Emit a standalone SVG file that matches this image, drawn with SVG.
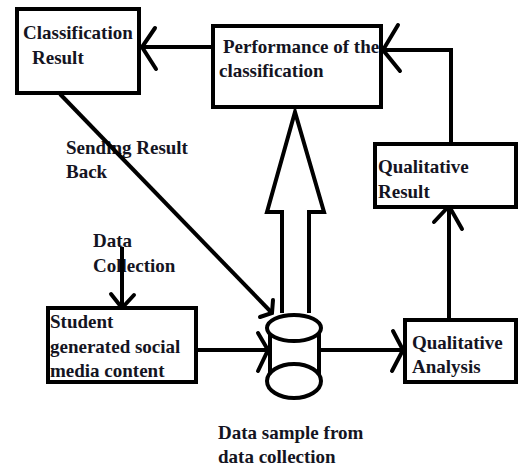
<svg xmlns="http://www.w3.org/2000/svg" width="519" height="468" viewBox="0 0 519 468">
<style>
.box{fill:#fff;stroke:#000;stroke-width:4}
.ln{fill:none;stroke:#000;stroke-width:4;stroke-linecap:butt;stroke-linejoin:miter}
.hd{fill:none;stroke:#000;stroke-width:4;stroke-linecap:round}
text{font-family:"Liberation Serif","Times New Roman",serif;font-weight:bold;font-size:19px;fill:#141422}
</style>
<rect width="519" height="468" fill="#fff"/>
<g id="labels">
  <text x="66" y="154">Sending Result</text>
  <text x="66" y="178">Back</text>
  <text x="93" y="247">Data</text>
  <text x="93" y="272">Collection</text>
</g>
<g id="connectors">
  <!-- Performance -> Classification -->
  <line class="ln" x1="211" y1="47" x2="142" y2="47"/>
  <polyline class="hd" points="155,28 142,47 156,69"/>
  <!-- Qualitative Result -> Performance -->
  <polyline class="ln" points="451,142 451,50 382,50"/>
  <polyline class="hd" points="398,25 383,50 400,71"/>
  <!-- Classification -> cylinder (Sending Result Back) -->
  <line class="ln" x1="60" y1="94" x2="272" y2="313"/>
  <polyline class="hd" points="273,300 272,313 260,317"/>
  <!-- Data Collection arrow -->
  <line class="ln" x1="122" y1="247" x2="122" y2="308"/>
  <polyline class="hd" points="111,294 122,308 134,295"/>
  <!-- Student -> cylinder -->
  <line class="ln" x1="197" y1="350" x2="268" y2="350"/>
  <polyline class="hd" points="258,333 268,350 258,371"/>
  <!-- cylinder -> Qualitative Analysis -->
  <line class="ln" x1="321" y1="350" x2="403" y2="350"/>
  <polyline class="hd" points="393,331 403,350 392,371"/>
  <!-- Qualitative Analysis -> Qualitative Result -->
  <line class="ln" x1="449" y1="320" x2="449" y2="207"/>
  <polyline class="hd" points="434,222 449,206 462,229"/>
  <!-- hollow block arrow cylinder -> Performance -->
  <polyline points="282,313 282,212 267,212 295,112 324,212 309,212 309,313" fill="#fff" stroke="#000" stroke-width="4" stroke-linejoin="miter"/>
</g>
<g id="classification-result">
  <rect class="box" x="17" y="9" width="122" height="84"/>
  <text x="23" y="39">Classification</text>
  <text x="32" y="64">Result</text>
</g>
<g id="performance">
  <rect class="box" x="213" y="26" width="168" height="81"/>
  <text x="223" y="53">Performance of the</text>
  <text x="219" y="77">classification</text>
</g>
<g id="qualitative-result">
  <rect class="box" x="375" y="144" width="141" height="63"/>
  <text x="378" y="173">Qualitative</text>
  <text x="378" y="198">Result</text>
</g>
<g id="qualitative-analysis">
  <rect class="box" x="405" y="320" width="111" height="62"/>
  <text x="412" y="349">Qualitative</text>
  <text x="412" y="373">Analysis</text>
</g>
<g id="student-content">
  <rect class="box" x="48" y="308" width="148" height="74"/>
  <text x="50" y="328">Student</text>
  <text x="50" y="353">generated social</text>
  <text x="50" y="377">media content</text>
</g>
<g id="data-sample">
  <path d="M270,329 L270,380 M319,329 L319,380" class="ln"/>
  <ellipse cx="294" cy="381" rx="27" ry="17" class="box"/>
  <ellipse cx="294" cy="328" rx="27" ry="13" class="box"/>
  <text x="218" y="439">Data sample from</text>
  <text x="218" y="463">data collection</text>
</g>
</svg>
